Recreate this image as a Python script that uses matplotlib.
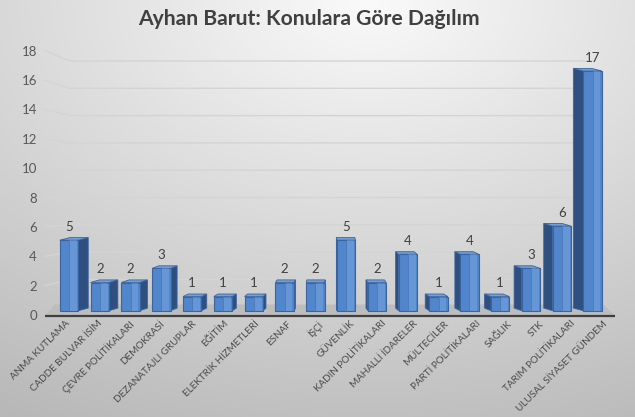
import numpy as np
import matplotlib
matplotlib.use("Agg")
import matplotlib.pyplot as plt
from matplotlib.patches import Polygon

# ---- data ----
categories = ["ANMA KUTLAMA", "CADDE BULVAR İSİM", "ÇEVRE POLİTİKALARI", "DEMOKRASİ",
              "DEZANATAJLI GRUPLAR", "EĞİTİM", "ELEKTRİK HİZMETLERİ", "ESNAF", "İŞÇİ",
              "GÜVENLİK", "KADIN POLİTİKALARI", "MAHALLİ İDARELER", "MÜLTECİLER",
              "PARTİ POLİTİKALARI", "SAĞLIK", "STK", "TARIM POLİTİKALARI",
              "ULUSAL SİYASET GÜNDEM"]
values = [5, 2, 2, 3, 1, 1, 1, 2, 2, 5, 2, 4, 1, 4, 1, 3, 6, 17]
yticks = [0, 2, 4, 6, 8, 10, 12, 14, 16, 18]
title = "Ayhan Barut: Konulara Göre Dağılım"

FONT = ["Lato", "DejaVu Sans"]
plt.rcParams["font.family"] = FONT

W, H = 635, 417
fig = plt.figure(figsize=(W / 100, H / 100), dpi=100)

# background gradient
bg = fig.add_axes([0, 0, 1, 1], zorder=-10)
yy, xx = np.mgrid[0:H, 0:W]
nx, ny = xx / W, yy / H
d = np.sqrt(((nx - 0.58) * 1.0) ** 2 + (ny - 0.0) ** 2)
g = np.clip(250 - 58 * d, 0, 255) / 255.0
bg.imshow(np.dstack([g, g, g]), aspect="auto", extent=[0, 1, 0, 1], origin="upper")
bg.set_axis_off()

# main axes: pixel mapping
PX_Y0, PX_PER_Y = 310.7, 14.1       # value 0 at px 310.7 from top
PX_X0, PX_PER_X = 69.0, 30.8        # category 0 center
ax_l_px, ax_r_px, ax_t_px, ax_b_px = 40, 620, 40, 330
ax = fig.add_axes([ax_l_px / W, 1 - ax_b_px / H, (ax_r_px - ax_l_px) / W, (ax_b_px - ax_t_px) / H])
ax.patch.set_alpha(0)
ax.set_xlim((ax_l_px - PX_X0) / PX_PER_X, (ax_r_px - PX_X0) / PX_PER_X)
ax.set_ylim((PX_Y0 - ax_b_px) / PX_PER_Y, (PX_Y0 - ax_t_px) / PX_PER_Y)
for s in ax.spines.values():
    s.set_visible(False)

n = len(categories)
x = np.arange(n)
mid = (n - 1) / 2.0
w = 0.6
depth_x = 10.0 / PX_PER_X
dy = 2.6 / PX_PER_Y

# y positions of tick labels (front plane) and back-wall gridlines
def label_y(v):
    return (PX_Y0 - 315.0 + 14.68 * v) / PX_PER_Y

def back_y(v):
    return (PX_Y0 - 306.7 + 13.65 * v) / PX_PER_Y

grid_c = "#d4d4d4"
for v in yticks[1:]:
    xl0 = (45 - PX_X0) / PX_PER_X
    xl1 = (70 - PX_X0) / PX_PER_X
    xr = (592 - PX_X0) / PX_PER_X
    ax.plot([xl0, xl1, xr], [label_y(v), back_y(v), back_y(v)], color=grid_c, lw=1.0, zorder=1)

# floor
f_front = (PX_Y0 - 315.5) / PX_PER_Y
f_back = (PX_Y0 - 304.5) / PX_PER_Y
fx = lambda px: (px - PX_X0) / PX_PER_X
ax.add_patch(Polygon([(fx(45), f_front), (fx(615), f_front), (fx(603), f_back), (fx(55), f_back)],
                     closed=True, facecolor="#bdbdbd", edgecolor="none", zorder=1.5))
ax.plot([fx(45), fx(615)], [f_front, f_front], color="#3f3f3f", lw=1.6, zorder=1.6,
        solid_capstyle="butt")

front_c = "#5286cc"
side_c = "#2e4f80"
top_c = "#6f9fdc"
edge_c = "#3a64a0"

for xi, v in zip(x, values):
    s = (mid - xi) / mid * depth_x
    if s >= 0:
        xe = xi + w / 2
    else:
        xe = xi - w / 2
    side = Polygon([(xe, 0), (xe + s, dy), (xe + s, v + dy), (xe, v)], closed=True,
                   facecolor=side_c, edgecolor=edge_c, lw=0.6, zorder=3)
    top = Polygon([(xi - w / 2, v), (xi + w / 2, v), (xi + w / 2 + s, v + dy), (xi - w / 2 + s, v + dy)],
                  closed=True, facecolor=top_c, edgecolor=edge_c, lw=0.6, zorder=3)
    ax.add_patch(side)
    ax.add_patch(top)

ax.bar(x, values, width=w, color=front_c, edgecolor=edge_c, linewidth=0.8, zorder=4)
# subtle highlight on the right part of the front face
ax.bar(x + w * 0.22, values, width=w * 0.4, color="#8db5ea", alpha=0.35, linewidth=0, zorder=4.5)
ax.vlines(x, 0, values, color="#4a78b8", lw=0.6, zorder=4.6)

# value labels
for xi, v in zip(x, values):
    ax.text(xi, v + 13.5 / PX_PER_Y, str(v), ha="center", va="center", fontsize=9.5,
            color="#404040", zorder=6)

# category labels
for xi, lab in zip(x, categories):
    lx = mid + (xi - mid) * 1.025 + 0.1
    ax.text(lx, (PX_Y0 - 319.0) / PX_PER_Y, lab, rotation=45, rotation_mode="anchor",
            ha="right", va="top", fontsize=7.1, color="#4a4a4a", clip_on=False)

ax.set_xticks([])
ax.set_yticks([label_y(v) for v in yticks], [str(v) for v in yticks])
ax.tick_params(axis="y", length=0, pad=2.2, labelsize=9.5, labelcolor="#595959")

fig.text(309 / W, 1 - 19 / H, title, ha="center", va="center", fontsize=15.2,
         fontweight="bold", color="#404040")

fig.savefig("out.png", dpi=100)
